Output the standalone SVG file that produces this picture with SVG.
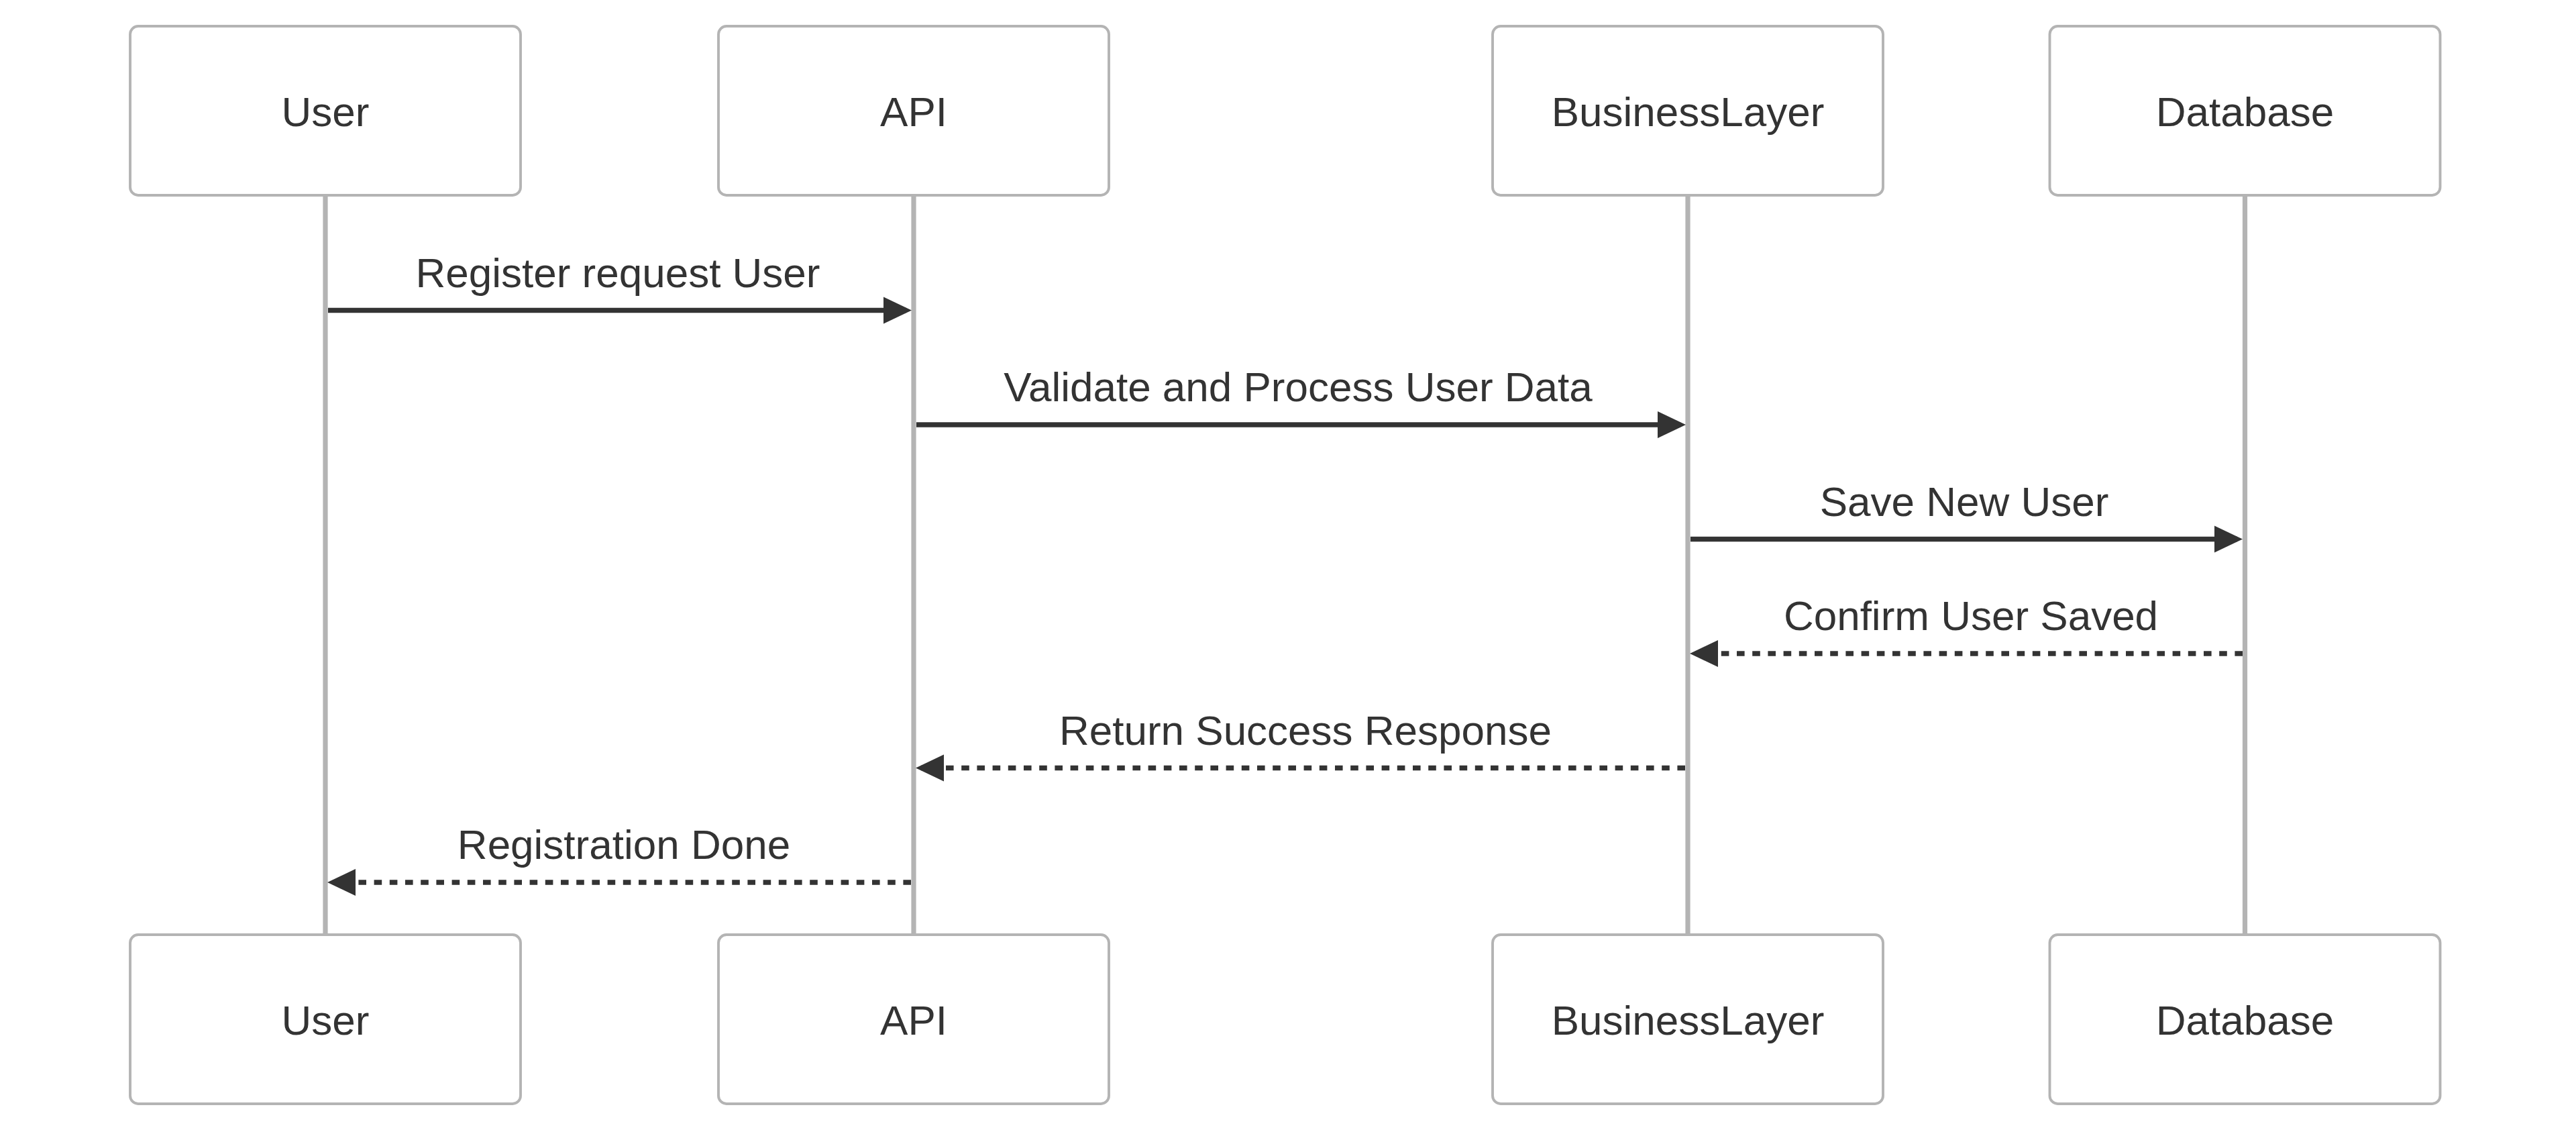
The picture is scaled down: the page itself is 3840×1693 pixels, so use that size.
<svg xmlns="http://www.w3.org/2000/svg" width="3840" height="1693" viewBox="0 0 3840 1693">
<style>
.box{fill:#ffffff;stroke:#b4b4b4;stroke-width:3.9}
.life{stroke:#b4b4b4;stroke-width:7.2}
.alabel{font-family:"Liberation Sans",Arial,Helvetica,sans-serif;font-size:62px;fill:#333333;text-anchor:middle}
.mlabel{font-family:"Liberation Sans",Arial,Helvetica,sans-serif;font-size:62px;fill:#333333;text-anchor:middle}
.msg{stroke:#333333;stroke-width:7.5;fill:none;marker-end:url(#arrowhead)}
.dashed{stroke-dasharray:11.6 11.6}
</style>
<defs>
<marker id="arrowhead" markerUnits="userSpaceOnUse" markerWidth="44" markerHeight="42" refX="34" refY="20" orient="auto" style="overflow:visible">
<path d="M 0 0 L 42 20 L 0 40 z" fill="#333333"/>
</marker>
</defs>
<rect width="3840" height="1693" fill="#ffffff"/>
<g id="lifelines">
<line class="life" x1="485" y1="291" x2="485" y2="1393"/>
<line class="life" x1="1362" y1="291" x2="1362" y2="1393"/>
<line class="life" x1="2516" y1="291" x2="2516" y2="1393"/>
<line class="life" x1="3346.5" y1="291" x2="3346.5" y2="1393"/>
</g>
<g id="actor-user-top"><rect class="box" x="194" y="39" width="582" height="252" rx="12"/><text class="alabel" x="485" y="187.5">User</text></g>
<g id="actor-api-top"><rect class="box" x="1071" y="39" width="582" height="252" rx="12"/><text class="alabel" x="1362" y="187.5">API</text></g>
<g id="actor-business-top"><rect class="box" x="2225" y="39" width="582" height="252" rx="12"/><text class="alabel" x="2516" y="187.5">BusinessLayer</text></g>
<g id="actor-database-top"><rect class="box" x="3055.5" y="39" width="582" height="252" rx="12"/><text class="alabel" x="3346.5" y="187.5">Database</text></g>
<g id="actor-user-bottom"><rect class="box" x="194" y="1393" width="582" height="252" rx="12"/><text class="alabel" x="485" y="1541.5">User</text></g>
<g id="actor-api-bottom"><rect class="box" x="1071" y="1393" width="582" height="252" rx="12"/><text class="alabel" x="1362" y="1541.5">API</text></g>
<g id="actor-business-bottom"><rect class="box" x="2225" y="1393" width="582" height="252" rx="12"/><text class="alabel" x="2516" y="1541.5">BusinessLayer</text></g>
<g id="actor-database-bottom"><rect class="box" x="3055.5" y="1393" width="582" height="252" rx="12"/><text class="alabel" x="3346.5" y="1541.5">Database</text></g>
<g id="connectors">
<line class="msg" x1="489" y1="462.5" x2="1351" y2="462.5"/>
<line class="msg" x1="1366" y1="633" x2="2505" y2="633"/>
<line class="msg" x1="2520" y1="803.5" x2="3335" y2="803.5"/>
<line class="msg dashed" x1="3343" y1="974" x2="2527" y2="974"/>
<line class="msg dashed" x1="2512" y1="1144.5" x2="1373" y2="1144.5"/>
<line class="msg dashed" x1="1358" y1="1315" x2="496" y2="1315"/>
<text class="mlabel" x="921" y="427.5">Register request User</text>
<text class="mlabel" x="1935" y="598">Validate and Process User Data</text>
<text class="mlabel" x="2928" y="768.5">Save New User</text>
<text class="mlabel" x="2938" y="939">Confirm User Saved</text>
<text class="mlabel" x="1946" y="1109.5">Return Success Response</text>
<text class="mlabel" x="930" y="1280">Registration Done</text>
</g>
</svg>
